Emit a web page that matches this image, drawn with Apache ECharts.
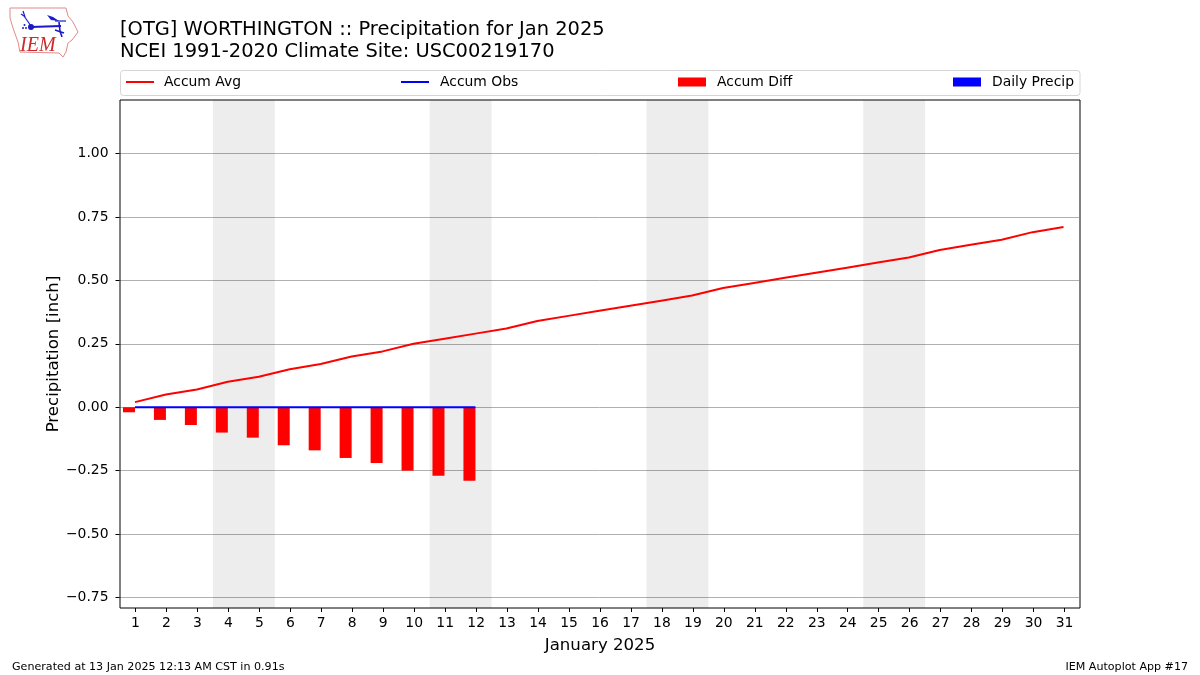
<!DOCTYPE html>
<html><head><meta charset="utf-8">
<style>html,body{margin:0;padding:0;background:#fff}#c{width:1200px;height:675px}</style>
<script src="https://cdn.jsdelivr.net/npm/echarts@6/dist/echarts.min.js"></script>
</head><body><div id="c"></div>
<script>
const days = ['1','2','3','4','5','6','7','8','9','10','11','12','13','14','15','16','17','18','19','20','21','22','23','24','25','26','27','28','29','30','31'];
const accumAvg = [0.02,0.05,0.07,0.10,0.12,0.15,0.17,0.20,0.22,0.25,0.27,0.29,0.31,0.34,0.36,0.38,0.40,0.42,0.44,0.47,0.49,0.51,0.53,0.55,0.57,0.59,0.62,0.64,0.66,0.69,0.71];
const accumObs = [0,0,0,0,0,0,0,0,0,0,0,0];
const accumDiff = [-0.02,-0.05,-0.07,-0.10,-0.12,-0.15,-0.17,-0.20,-0.22,-0.25,-0.27,-0.29];
const dailyPrecip = [0,0,0,0,0,0,0,0,0,0,0,0];
const weekends = [[3.5,5.5],[10.5,12.5],[17.5,19.5],[24.5,26.5]];
const FONT = '"DejaVu Sans"';
const chart = echarts.init(document.getElementById('c'), null, {renderer:'canvas'});
const legendAt = (name, left, icon, h, pad) => ({
  data:[name], left, top:75, orient:'horizontal', selectedMode:false, icon,
  itemWidth:28, itemHeight:h, padding:0,
  textStyle:{fontFamily:FONT,fontSize:13.9,color:'#000',padding:[0,0,0,pad]}
});
chart.setOption({
  animation:false,
  backgroundColor:'#fff',
  title:{text:'[OTG] WORTHINGTON :: Precipitation for Jan 2025\nNCEI 1991-2020 Climate Site: USC00219170',left:120,top:19,padding:0,
    textStyle:{fontFamily:FONT,fontSize:19.45,fontWeight:'normal',color:'#000',lineHeight:22}},
  legend:[
    legendAt('Accum Avg',126,'rect',2,5),
    legendAt('Accum Obs',401,'rect',2,6),
    legendAt('Accum Diff',678,'rect',9,6),
    legendAt('Daily Precip',953,'rect',9,6)
  ],
  grid:[
    {left:119.5,width:959.5,top:153.5,height:444,containLabel:false},
    {left:120,width:960,top:100,height:508,show:true,borderColor:'#000',borderWidth:1,backgroundColor:'transparent',z:1}
  ],
  xAxis:[
    {type:'category',gridIndex:0,data:days,show:false},
    {type:'category',gridIndex:1,data:days,position:'bottom',
      axisLine:{show:false},
      axisTick:{show:true,alignWithLabel:true,length:4,lineStyle:{color:'#000'}},
      axisLabel:{fontFamily:FONT,fontSize:13.9,color:'#000',margin:8,interval:0},
      name:'January 2025',nameLocation:'middle',nameGap:29,
      nameTextStyle:{fontFamily:FONT,fontSize:16.6,color:'#000'}},
    {type:'value',gridIndex:1,min:0.5,max:31.5,show:false}
  ],
  yAxis:[
    {type:'value',gridIndex:0,min:-0.75,max:1,interval:0.25,
      axisLine:{show:false},
      axisTick:{show:true,length:4,lineStyle:{color:'#000'}},
      axisLabel:{fontFamily:FONT,fontSize:13.9,color:'#000',margin:11,padding:[4,0,0,0],
        formatter:v=>v.toFixed(2).replace('-','\u2212')},
      splitLine:{show:true,lineStyle:{color:'#b0b0b0',width:1}}},
    {type:'value',gridIndex:1,min:0,max:1,
      axisLine:{show:false},axisTick:{show:false},axisLabel:{show:false},splitLine:{show:false},
      name:'Precipitation [inch]',nameLocation:'middle',nameGap:58,
      nameTextStyle:{fontFamily:FONT,fontSize:16.6,color:'#000'}}
  ],
  series:[
    {name:'weekends',type:'line',xAxisIndex:2,yAxisIndex:1,data:[],silent:true,
      markArea:{silent:true,itemStyle:{color:'rgba(0,0,0,0.07)'},
        data:weekends.map(w=>[{xAxis:w[0],yAxis:0},{xAxis:w[1],yAxis:1}])}},
    {name:'Accum Diff',type:'bar',xAxisIndex:0,yAxisIndex:0,data:accumDiff,barWidth:12,barGap:'0%',
      itemStyle:{color:'#ff0000'}},
    {name:'Daily Precip',type:'bar',xAxisIndex:0,yAxisIndex:0,data:dailyPrecip,barWidth:12,barGap:'0%',
      itemStyle:{color:'#0000ff'}},
    {name:'Accum Avg',type:'line',xAxisIndex:0,yAxisIndex:0,data:accumAvg,showSymbol:false,symbol:'none',
      lineStyle:{color:'#ff0000',width:2},itemStyle:{color:'#ff0000'}},
    {name:'Accum Obs',type:'line',xAxisIndex:0,yAxisIndex:0,data:accumObs,showSymbol:false,symbol:'none',
      lineStyle:{color:'#0000ff',width:2},itemStyle:{color:'#0000ff'}}
  ],
  graphic:[
    {type:'rect',shape:{x:120.5,y:70.5,width:959.5,height:25,r:3},style:{fill:'#fff',stroke:'#d5d5d5',lineWidth:1},z:-1},
    {type:'text',left:12,top:662,style:{text:'Generated at 13 Jan 2025 12:13 AM CST in 0.91s',font:'11.1px "DejaVu Sans"',fill:'#000'}},
    {type:'text',right:12,top:662,style:{text:'IEM Autoplot App #17',font:'11.1px "DejaVu Sans"',fill:'#000'}},
    {type:'polygon',shape:{points:[[10,8],[66,8],[68,16],[73,22],[78,32],[72,40],[68,43],[66,52],[63,57],[59,53],[20,52],[18,42],[13,28],[10,18]]},style:{fill:'#fff',stroke:'#e08a8a',lineWidth:1}},
    {type:'text',left:20,top:36,style:{text:'IEM',font:'italic 20px "Liberation Serif"',fill:'#cc2b2b'}},
    {type:'polyline',shape:{points:[[31,27],[61,26]]},style:{stroke:'#1a1acc',lineWidth:2.2,fill:'none'}},
    {type:'polyline',shape:{points:[[31,26],[24,16]]},style:{stroke:'#1a1acc',lineWidth:1.2,fill:'none'}},
    {type:'polyline',shape:{points:[[24,16],[21,14]]},style:{stroke:'#1a1acc',lineWidth:1.2,fill:'none'}},
    {type:'polyline',shape:{points:[[25,17],[23,11]]},style:{stroke:'#1a1acc',lineWidth:1.2,fill:'none'}},
    {type:'circle',shape:{cx:31,cy:27,r:3},style:{fill:'#1a1acc'}},
    {type:'circle',shape:{cx:23,cy:28,r:1},style:{fill:'#1a1acc'}},
    {type:'circle',shape:{cx:26,cy:28,r:1},style:{fill:'#1a1acc'}},
    {type:'circle',shape:{cx:24.5,cy:25,r:1},style:{fill:'#1a1acc'}},
    {type:'polygon',shape:{points:[[47,15],[53,17],[59,21],[51,20]]},style:{fill:'#1a1acc'}},
    {type:'polyline',shape:{points:[[55,21],[66,21]]},style:{stroke:'#1a1acc',lineWidth:1.2,fill:'none'}},
    {type:'polyline',shape:{points:[[59,22],[60,31],[62,37]]},style:{stroke:'#1a1acc',lineWidth:1.6,fill:'none'}},
    {type:'polyline',shape:{points:[[55,30],[64,33]]},style:{stroke:'#1a1acc',lineWidth:1.4,fill:'none'}}
  ]
});
</script></body></html>
